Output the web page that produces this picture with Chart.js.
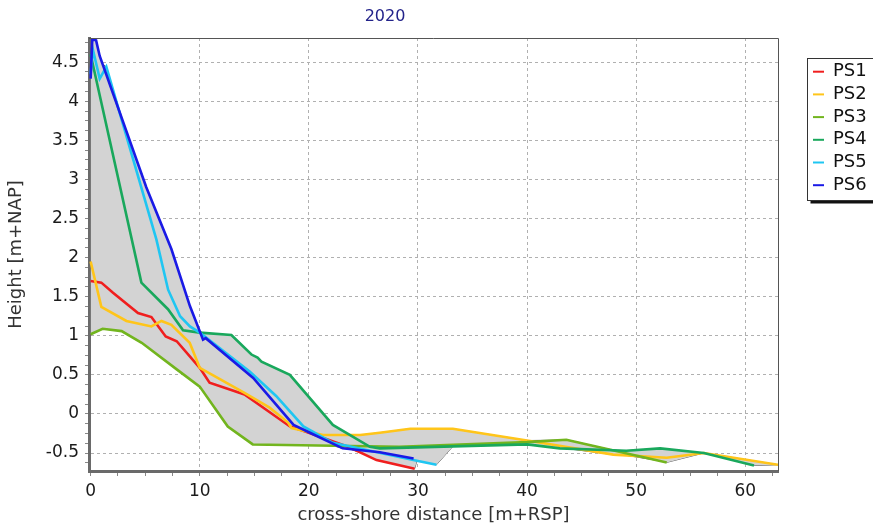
<!DOCTYPE html>
<html><head><meta charset="utf-8">
<script src="https://cdn.jsdelivr.net/npm/chart.js@4.4.0/dist/chart.umd.min.js"></script>
<style>html,body{margin:0;padding:0;background:#fff;}#wrap{width:873px;height:526px;position:relative;}</style>
</head><body><div id="wrap"><canvas id="c"></canvas></div>
<script>
const TITLE = '2020';
const X_TITLE = 'cross-shore distance [m+RSP]';
const Y_TITLE = 'Height [m+NAP]';
const SERIES_NAMES = ['PS1', 'PS2', 'PS3', 'PS4', 'PS5', 'PS6'];
const SERIES_COLORS = ['#f01e1e', '#ffc51a', '#72b51e', '#19a85c', '#1fc6f2', '#1a1ae6'];

const PS1_X = [0, 0.98, 2.05, 4.34, 5.57, 6.88, 7.89, 10.0, 10.9, 14.1, 18.26, 19.8, 23.76, 26.2, 29.7];
const PS1_Y = [1.70, 1.68, 1.55, 1.29, 1.24, 0.99, 0.93, 0.59, 0.40, 0.25, -0.16, -0.23, -0.43, -0.59, -0.70];

const PS2_X = [0, 0.98, 3.28, 5.57, 6.49, 7.4, 9.08, 10.0, 14.1, 16.4, 18.1, 18.4, 21.3, 24.7, 26.5, 29.3, 33.2, 40.0, 47.9, 52.8, 56.2, 63.0];
const PS2_Y = [1.95, 1.37, 1.19, 1.12, 1.19, 1.14, 0.91, 0.59, 0.27, 0.08, -0.11, -0.18, -0.27, -0.27, -0.24, -0.19, -0.19, -0.34, -0.52, -0.56, -0.50, -0.65];

const PS3_X = [0, 1.1, 2.84, 4.68, 7.89, 10.0, 12.57, 14.86, 28.3, 40.0, 43.6, 52.8];
const PS3_Y = [1.02, 1.09, 1.06, 0.91, 0.57, 0.35, -0.16, -0.39, -0.42, -0.36, -0.33, -0.62];

const PS4_X = [0, 4.65, 7.09, 8.47, 10.0, 12.9, 14.74, 15.3, 15.66, 18.26, 22.2, 25.6, 26.5, 40.0, 43.0, 49.1, 52.2, 56.2, 60.8];
const PS4_Y = [4.60, 1.68, 1.34, 1.07, 1.04, 1.01, 0.76, 0.72, 0.67, 0.50, -0.14, -0.42, -0.44, -0.39, -0.44, -0.47, -0.44, -0.50, -0.66];

const PS5_X = [0, 0.21, 0.83, 1.44, 6.03, 7.1, 8.2, 9.1, 10.0, 14.6, 17.0, 19.5, 22.2, 29.9, 31.7];
const PS5_Y = [4.35, 4.66, 4.29, 4.44, 2.23, 1.59, 1.25, 1.12, 1.04, 0.54, 0.23, -0.16, -0.37, -0.60, -0.65];

const PS6_X = [0, 0.15, 0.5, 0.83, 5.1, 7.4, 9.1, 10.3, 10.55, 14.9, 18.6, 20.1, 23.1, 26.5, 29.6];
const PS6_Y = [4.29, 4.79, 4.78, 4.58, 2.90, 2.11, 1.38, 0.95, 0.97, 0.46, -0.14, -0.24, -0.44, -0.49, -0.57];

const X_MIN = -0.15, X_MAX = 63, X_MAJOR = 10, X_MINOR = 2.5;
const Y_MIN = -0.73, Y_MAX = 4.81, Y_MAJOR = 0.5, Y_MINOR = 0.125;

const FONT = "'DejaVu Sans', Verdana, sans-serif";

const SERIES = [
  [PS1_X, PS1_Y], [PS2_X, PS2_Y], [PS3_X, PS3_Y],
  [PS4_X, PS4_Y], [PS5_X, PS5_Y], [PS6_X, PS6_Y]
];

function toPoints(xs, ys) { return xs.map((x, i) => ({x: x, y: ys[i]})); }

// value of a series at x (linear between its own readings), null outside its range
function valueAt(xs, ys, x) {
  if (x < xs[0] || x > xs[xs.length - 1]) return null;
  for (let i = 0; i < xs.length - 1; i++) {
    if (x >= xs[i] && x <= xs[i + 1]) {
      const t = (x - xs[i]) / (xs[i + 1] - xs[i]);
      return ys[i] + t * (ys[i + 1] - ys[i]);
    }
  }
  return ys[ys.length - 1];
}

// min / max envelope of all series (grey band in the chart)
function envelope() {
  const all = [];
  SERIES.forEach(s => s[0].forEach(x => all.push(x)));
  const xs = [...new Set(all)].sort((a, b) => a - b);
  const lo = [], hi = [];
  xs.forEach(x => {
    let mn = Infinity, mx = -Infinity;
    SERIES.forEach(s => {
      const v = valueAt(s[0], s[1], x);
      if (v === null) return;
      if (v < mn) mn = v;
      if (v > mx) mx = v;
    });
    lo.push({x: x, y: mn});
    hi.push({x: x, y: mx});
  });
  return {lo, hi};
}

const env = envelope();

const datasets = SERIES.map((s, i) => ({
  label: SERIES_NAMES[i],
  data: toPoints(s[0], s[1]),
  borderColor: SERIES_COLORS[i],
  backgroundColor: SERIES_COLORS[i],
  borderWidth: 2.6,
  pointRadius: 0,
  tension: 0,
  fill: false,
  order: 6 - i
}));
datasets.push({
  label: 'envelope-min', data: env.lo, borderColor: '#5a5a5a', borderWidth: 1,
  pointRadius: 0, tension: 0, fill: false, order: 20
});
datasets.push({
  label: 'envelope-max', data: env.hi, borderColor: '#5a5a5a', borderWidth: 1,
  backgroundColor: '#d3d3d3', pointRadius: 0, tension: 0, fill: '-1', order: 19
});

function isMultiple(v, step) {
  const r = v / step;
  return Math.abs(r - Math.round(r)) < 1e-6;
}
function fmt(v) { return String(Math.round(v * 1000) / 1000); }
function makeTicks(min, max, step) {
  const t = [];
  for (let k = Math.ceil(min / step - 1e-9); k * step <= max + 1e-9; k++) {
    t.push({value: Math.round(k * step * 1e6) / 1e6});
  }
  return t;
}

const frameAndExtras = {
  id: 'frameAndExtras',
  afterDraw(chart) {
    const ctx = chart.ctx, a = chart.chartArea;
    ctx.save();
    // top & right frame
    ctx.strokeStyle = '#555';
    ctx.lineWidth = 1;
    ctx.beginPath();
    ctx.moveTo(a.left, a.top + 0.5);
    ctx.lineTo(a.right + 0.5, a.top + 0.5);
    ctx.lineTo(a.right + 0.5, a.bottom);
    ctx.stroke();
    // title
    ctx.fillStyle = '#23238a';
    ctx.font = '16px ' + FONT;
    ctx.textAlign = 'center';
    ctx.textBaseline = 'middle';
    ctx.fillText(TITLE, 385, 17);
    // legend
    const bx = 807.5, by = 58.5, bw = 70, bh = 142;
    ctx.fillStyle = '#111';
    ctx.fillRect(bx + 3, by + bh, bw, 3);
    ctx.fillStyle = '#fff';
    ctx.fillRect(bx, by, bw, bh);
    ctx.strokeStyle = '#333';
    ctx.lineWidth = 1;
    ctx.strokeRect(bx, by, bw, bh);
    ctx.font = '18px ' + FONT;
    ctx.textAlign = 'left';
    chart.data.datasets.slice(0, SERIES_NAMES.length).forEach((ds, i) => {
      const y = 71.7 + i * 22.7;
      ctx.strokeStyle = ds.borderColor;
      ctx.lineWidth = 2;
      ctx.beginPath();
      ctx.moveTo(813, y);
      ctx.lineTo(824, y);
      ctx.stroke();
      ctx.fillStyle = '#111';
      ctx.fillText(ds.label, 833, y);
    });
    ctx.restore();
  }
};

new Chart(document.getElementById('c'), {
  type: 'line',
  data: {datasets},
  plugins: [frameAndExtras],
  options: {
    responsive: true,
    maintainAspectRatio: false,
    animation: false,
    layout: {padding: {top: 38, right: 95, left: 0, bottom: 0}},
    plugins: {legend: {display: false}, tooltip: {enabled: false}, title: {display: false}},
    scales: {
      x: {
        type: 'linear', min: X_MIN, max: X_MAX, bounds: 'data',
        afterBuildTicks: s => { s.ticks = makeTicks(X_MIN, X_MAX, X_MINOR); },
        ticks: {
          autoSkip: false, maxRotation: 0,
          callback: v => isMultiple(v, X_MAJOR) ? fmt(v) : '',
          font: {family: FONT, size: 17}, color: '#1a1a1a', padding: 5
        },
        grid: {
          color: c => (c.tick && isMultiple(c.tick.value, X_MAJOR)) ? '#b0b0b0' : 'rgba(0,0,0,0)',
          tickColor: '#888', tickLength: 5, tickBorderDash: []
        },
        border: {display: true, color: '#6a6a6a', width: 3, dash: [3, 3]},
        title: {display: true, text: X_TITLE, font: {family: FONT, size: 18}, color: '#333', padding: {top: 0, bottom: 0}},
        afterFit: s => { s.height = 55; }
      },
      y: {
        type: 'linear', min: Y_MIN, max: Y_MAX, bounds: 'data',
        afterBuildTicks: s => { s.ticks = makeTicks(Y_MIN, Y_MAX, Y_MINOR); },
        ticks: {
          autoSkip: false,
          callback: v => isMultiple(v, Y_MAJOR) ? fmt(v) : '',
          font: {family: FONT, size: 17}, color: '#1a1a1a', padding: 6
        },
        grid: {
          color: c => (c.tick && isMultiple(c.tick.value, Y_MAJOR)) ? '#b0b0b0' : 'rgba(0,0,0,0)',
          tickColor: '#888', tickLength: 4, tickBorderDash: []
        },
        border: {display: true, color: '#6a6a6a', width: 3, dash: [3, 3]},
        title: {display: true, text: Y_TITLE, font: {family: FONT, size: 18}, color: '#333', padding: {top: 6, bottom: 4}},
        afterFit: s => { s.width = 89; }
      }
    }
  }
});
</script></body></html>
